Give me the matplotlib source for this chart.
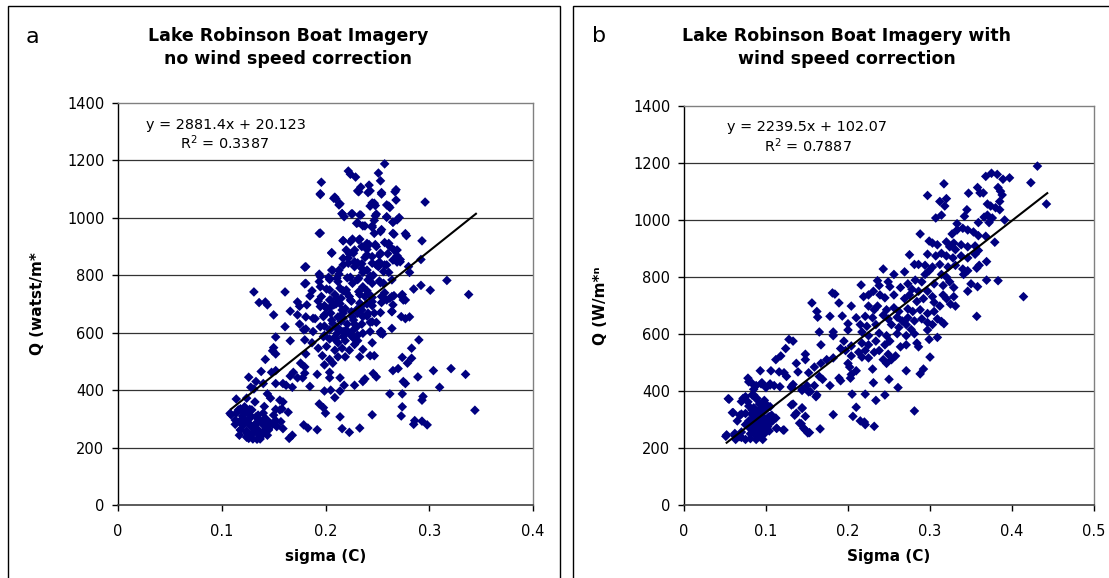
import matplotlib
matplotlib.use("Agg")
import matplotlib.pyplot as plt
from matplotlib.patches import Rectangle
import numpy as np

plt.rcParams['font.family'] = ['DejaVu Sans']

# ---------------- data: panel a (no wind speed correction) ----------------
sigma_a = [
    0.257, 0.222, 0.224, 0.229, 0.251, 0.196, 0.253,
    0.231, 0.234, 0.242, 0.243, 0.195, 0.254, 0.268,
    0.209, 0.210, 0.214, 0.245, 0.248, 0.259, 0.262,
    0.268, 0.296, 0.216, 0.218, 0.226, 0.234, 0.249,
    0.259, 0.265, 0.271, 0.247, 0.195, 0.231, 0.238,
    0.245, 0.247, 0.254, 0.266, 0.277, 0.293, 0.217,
    0.226, 0.233, 0.235, 0.242, 0.248, 0.257, 0.262,
    0.206, 0.223, 0.228, 0.266, 0.260, 0.269, 0.238,
    0.245, 0.249, 0.252, 0.257, 0.269, 0.272, 0.292,
    0.217, 0.228, 0.231, 0.280, 0.281, 0.181, 0.207,
    0.213, 0.236, 0.243, 0.261, 0.194, 0.194, 0.204,
    0.212, 0.221, 0.226, 0.231, 0.245, 0.256, 0.181,
    0.338, 0.317, 0.292, 0.301, 0.285, 0.131, 0.161,
    0.187, 0.201, 0.209, 0.217, 0.223, 0.233, 0.240,
    0.245, 0.257, 0.266, 0.274, 0.277, 0.136, 0.142,
    0.144, 0.173, 0.175, 0.193, 0.199, 0.205, 0.214,
    0.219, 0.235, 0.245, 0.254, 0.262, 0.150, 0.166,
    0.264, 0.277, 0.281, 0.199, 0.205, 0.212, 0.217,
    0.226, 0.231, 0.240, 0.247, 0.173, 0.181, 0.190,
    0.161, 0.175, 0.181, 0.199, 0.207, 0.212, 0.221,
    0.228, 0.235, 0.243, 0.249, 0.188, 0.199, 0.211,
    0.217, 0.223, 0.231, 0.254, 0.255, 0.152, 0.166,
    0.290, 0.180, 0.187, 0.204, 0.212, 0.219, 0.228,
    0.245, 0.231, 0.150, 0.149, 0.152, 0.193, 0.201,
    0.209, 0.216, 0.223, 0.236, 0.283, 0.181, 0.197,
    0.204, 0.212, 0.219, 0.233, 0.243, 0.247, 0.274,
    0.283, 0.142, 0.176, 0.180, 0.199, 0.207, 0.279,
    0.152, 0.148, 0.138, 0.265, 0.270, 0.304, 0.321,
    0.335, 0.180, 0.192, 0.204, 0.246, 0.249, 0.126,
    0.169, 0.166, 0.173, 0.178, 0.204, 0.214, 0.236,
    0.238, 0.275, 0.289, 0.133, 0.140, 0.152, 0.159,
    0.162, 0.168, 0.185, 0.218, 0.228, 0.310, 0.128,
    0.131, 0.199, 0.205, 0.214, 0.262, 0.274, 0.294,
    0.293, 0.277, 0.114, 0.144, 0.147, 0.132, 0.124,
    0.156, 0.159, 0.209, 0.194, 0.198, 0.141, 0.274,
    0.344, 0.152, 0.158, 0.164, 0.200, 0.118, 0.124,
    0.127, 0.109, 0.114, 0.120, 0.245, 0.214, 0.273,
    0.128, 0.133, 0.135, 0.143, 0.152, 0.157, 0.123,
    0.117, 0.286, 0.285, 0.293, 0.298, 0.121, 0.128,
    0.132, 0.141, 0.149, 0.233, 0.179, 0.183, 0.192,
    0.216, 0.159, 0.124, 0.135, 0.140, 0.145, 0.223,
    0.117, 0.124, 0.130, 0.137, 0.144, 0.168, 0.165,
    0.118, 0.113, 0.210, 0.215, 0.220, 0.205, 0.225,
    0.230, 0.215, 0.220, 0.225, 0.210, 0.230, 0.240,
    0.236, 0.246, 0.252, 0.240, 0.222, 0.235, 0.252,
    0.120, 0.126, 0.131, 0.138, 0.129, 0.136, 0.122,
    0.140,
]
q_a = [
    1188, 1163, 1152, 1142, 1156, 1124, 1129,
    1094, 1107, 1114, 1094, 1084, 1088, 1098,
    1072, 1066, 1049, 1052, 1043, 1045, 1036,
    1062, 1055, 1015, 1004, 1014, 1010, 1013,
    1004, 985, 1001, 991, 947, 983, 972,
    972, 946, 959, 943, 945, 920, 920,
    926, 926, 900, 907, 907, 914, 900,
    877, 875, 888, 888, 875, 868, 862,
    865, 836, 846, 836, 846, 855, 855,
    836, 830, 843, 830, 810, 830, 817,
    804, 810, 797, 810, 804, 778, 785,
    778, 791, 772, 785, 772, 772, 772,
    733, 782, 765, 748, 752, 742, 742,
    746, 752, 733, 746, 726, 733, 746,
    723, 739, 729, 733, 714, 705, 707,
    697, 707, 692, 710, 694, 714, 701,
    684, 694, 694, 705, 720, 662, 675,
    675, 649, 655, 662, 668, 655, 668,
    655, 668, 658, 668, 662, 655, 649,
    621, 630, 613, 623, 632, 617, 630,
    630, 630, 636, 636, 604, 591, 597,
    604, 597, 591, 604, 595, 585, 572,
    575, 575, 565, 578, 565, 572, 559,
    565, 572, 548, 537, 526, 546, 552,
    539, 546, 539, 542, 546, 526, 520,
    507, 516, 516, 516, 520, 520, 514,
    511, 507, 494, 481, 488, 494, 494,
    468, 462, 465, 468, 475, 468, 475,
    455, 459, 455, 462, 458, 446, 445,
    462, 449, 443, 443, 443, 443, 430,
    439, 430, 446, 430, 423, 423, 423,
    417, 410, 413, 417, 417, 410, 410,
    404, 397, 400, 397, 387, 387, 378,
    365, 423, 369, 387, 372, 359, 372,
    365, 359, 374, 352, 339, 343, 342,
    330, 333, 335, 323, 320, 335, 326,
    333, 314, 320, 310, 314, 307, 310,
    310, 307, 301, 297, 294, 290, 294,
    290, 294, 281, 292, 279, 279, 275,
    281, 279, 281, 268, 279, 268, 262,
    266, 266, 258, 262, 255, 264, 253,
    243, 236, 230, 230, 243, 243, 232,
    262, 281, 700, 720, 740, 690, 710,
    680, 640, 610, 590, 580, 620, 700,
    760, 800, 870, 890, 860, 840, 780,
    300, 285, 268, 290, 248, 245, 320,
    320,
]
# dense core of panel a (read from close-ups)
sigma_a_core = [
    0.195, 0.208, 0.213, 0.232, 0.241, 0.254, 0.267,
    0.261, 0.243, 0.247, 0.216, 0.225, 0.233, 0.248,
    0.259, 0.265, 0.269, 0.230, 0.236, 0.245, 0.253,
    0.265, 0.278, 0.194, 0.217, 0.224, 0.232, 0.240,
    0.249, 0.261, 0.269, 0.206, 0.220, 0.227, 0.240,
    0.253, 0.245, 0.251, 0.259, 0.265, 0.272, 0.217,
    0.222, 0.228, 0.235, 0.240, 0.256, 0.180, 0.206,
    0.213, 0.195, 0.203, 0.211, 0.224, 0.232, 0.241,
    0.253, 0.264, 0.180, 0.195, 0.204, 0.214, 0.220,
    0.232, 0.243, 0.254, 0.264, 0.273, 0.185, 0.196,
    0.204, 0.211, 0.224, 0.233, 0.238, 0.245, 0.259,
    0.265, 0.275, 0.182, 0.195, 0.201, 0.208, 0.216,
    0.225, 0.235, 0.241, 0.253, 0.264, 0.188, 0.198,
    0.206, 0.217, 0.227, 0.236, 0.245, 0.273, 0.179,
    0.195, 0.204, 0.211, 0.220, 0.227, 0.236, 0.243,
    0.253, 0.264, 0.198, 0.208, 0.217, 0.227, 0.253,
    0.108, 0.116, 0.122, 0.129, 0.135, 0.142, 0.150,
    0.156, 0.113, 0.121, 0.127, 0.134, 0.140, 0.147,
    0.118, 0.124, 0.132, 0.139, 0.145, 0.153, 0.126,
    0.134,
]
q_a_core = [
    1081, 1068, 1045, 1091, 1088, 1083, 1091,
    1041, 1041, 1051, 1014, 1014, 1010, 1007,
    1002, 985, 993, 981, 972, 967, 952,
    946, 938, 946, 921, 917, 923, 911,
    900, 911, 888, 879, 888, 877, 871,
    877, 842, 830, 836, 853, 847, 859,
    842, 847, 824, 818, 813, 828, 818,
    818, 795, 793, 790, 793, 790, 784,
    774, 784, 770, 760, 749, 755, 749,
    743, 731, 726, 726, 728, 728, 726,
    714, 720, 714, 703, 726, 708, 714,
    697, 714, 697, 691, 685, 697, 679,
    673, 679, 668, 670, 673, 650, 656,
    644, 650, 644, 656, 638, 656, 610,
    621, 610, 615, 604, 610, 598, 604,
    604, 615, 586, 581, 586, 581, 598,
    319, 331, 342, 331, 313, 302, 313,
    331, 296, 290, 302, 285, 279, 285,
    261, 250, 255, 244, 261, 273, 232,
    229,
]

# ---------------- data: panel b (with wind speed correction) ----------------
sigma_b = [
    0.431, 0.423, 0.397, 0.389, 0.375, 0.382, 0.368,
    0.317, 0.358, 0.361, 0.365, 0.383, 0.386, 0.388,
    0.297, 0.347, 0.320, 0.312, 0.318, 0.385, 0.370,
    0.374, 0.380, 0.385, 0.345, 0.442, 0.342, 0.370,
    0.366, 0.376, 0.307, 0.314, 0.391, 0.359, 0.372,
    0.333, 0.340, 0.288, 0.327, 0.333, 0.346, 0.353,
    0.359, 0.368, 0.379, 0.299, 0.303, 0.309, 0.320,
    0.329, 0.338, 0.346, 0.324, 0.331, 0.355, 0.359,
    0.275, 0.297, 0.307, 0.314, 0.320, 0.328, 0.338,
    0.346, 0.355, 0.369, 0.281, 0.286, 0.294, 0.303,
    0.312, 0.322, 0.331, 0.340, 0.346, 0.357, 0.360,
    0.299, 0.294, 0.269, 0.243, 0.314, 0.320, 0.341,
    0.256, 0.282, 0.290, 0.305, 0.316, 0.369, 0.383,
    0.346, 0.350, 0.358, 0.324, 0.329, 0.414, 0.216,
    0.236, 0.238, 0.249, 0.251, 0.264, 0.273, 0.278,
    0.286, 0.297, 0.303, 0.316, 0.320, 0.329, 0.181,
    0.184, 0.231, 0.225, 0.239, 0.245, 0.256, 0.269,
    0.275, 0.284, 0.292, 0.305, 0.312, 0.325, 0.331,
    0.219, 0.189, 0.156, 0.204, 0.225, 0.232, 0.236,
    0.247, 0.256, 0.262, 0.273, 0.279, 0.288, 0.297,
    0.305, 0.162, 0.178, 0.193, 0.163, 0.210, 0.221,
    0.230, 0.243, 0.249, 0.260, 0.266, 0.273, 0.281,
    0.290, 0.309, 0.314, 0.357, 0.200, 0.215, 0.223,
    0.234, 0.253, 0.262, 0.271, 0.277, 0.297, 0.303,
    0.317, 0.200, 0.165, 0.182, 0.182, 0.217, 0.225,
    0.238, 0.247, 0.260, 0.271, 0.281, 0.297, 0.299,
    0.309, 0.128, 0.133, 0.167, 0.195, 0.204, 0.217,
    0.225, 0.234, 0.245, 0.251, 0.264, 0.271, 0.284,
    0.286, 0.124, 0.191, 0.197, 0.213, 0.221, 0.232,
    0.238, 0.249, 0.258, 0.112, 0.118, 0.148, 0.148,
    0.174, 0.182, 0.204, 0.217, 0.225, 0.243, 0.300,
    0.167, 0.159, 0.200, 0.202, 0.247, 0.253, 0.137,
    0.106, 0.116, 0.139, 0.122, 0.125, 0.093, 0.210,
    0.230, 0.292, 0.288, 0.152, 0.165, 0.169, 0.189,
    0.191, 0.204, 0.203, 0.250, 0.271, 0.078, 0.079,
    0.088, 0.085, 0.094, 0.105, 0.110, 0.100, 0.131,
    0.133, 0.150, 0.159, 0.178, 0.231, 0.261, 0.144,
    0.152, 0.161, 0.205, 0.221, 0.245, 0.234, 0.054,
    0.070, 0.075, 0.083, 0.088, 0.098, 0.092, 0.133,
    0.210, 0.079, 0.085, 0.096, 0.100, 0.090, 0.144,
    0.059, 0.068, 0.075, 0.083, 0.094, 0.103, 0.107,
    0.135, 0.148, 0.182, 0.206, 0.281, 0.065, 0.079,
    0.088, 0.096, 0.105, 0.075, 0.085, 0.094, 0.100,
    0.143, 0.215, 0.220, 0.221, 0.232, 0.146, 0.153,
    0.113, 0.122, 0.166, 0.051, 0.062, 0.070, 0.070,
    0.081, 0.081, 0.090, 0.096, 0.075, 0.088, 0.063,
    0.086, 0.092, 0.098, 0.089, 0.095, 0.080, 0.101,
    0.092, 0.084, 0.098, 0.105,
]
q_b = [
    1189, 1131, 1148, 1143, 1164, 1160, 1153,
    1127, 1114, 1095, 1095, 1114, 1101, 1088,
    1086, 1094, 1075, 1065, 1049, 1065, 1056,
    1049, 1043, 1036, 1036, 1056, 1013, 1017,
    1010, 1007, 1007, 1017, 1000, 991, 991,
    987, 971, 951, 951, 965, 965, 958,
    945, 943, 922, 926, 919, 913, 923,
    919, 913, 906, 906, 896, 909, 893,
    878, 880, 874, 883, 874, 867, 874,
    867, 880, 854, 844, 844, 841, 835,
    844, 835, 841, 828, 822, 831, 841,
    822, 809, 818, 828, 809, 800, 809,
    809, 789, 783, 776, 770, 789, 787,
    750, 776, 766, 783, 763, 731, 772,
    787, 770, 783, 766, 763, 776, 757,
    750, 750, 731, 737, 724, 731, 744,
    740, 750, 737, 737, 727, 737, 724,
    737, 714, 724, 711, 698, 705, 698,
    731, 709, 709, 698, 698, 685, 698,
    685, 692, 679, 688, 679, 685, 672,
    679, 679, 662, 663, 659, 657, 662,
    657, 666, 653, 659, 646, 657, 646,
    653, 653, 644, 662, 636, 633, 627,
    633, 633, 623, 633, 616, 640, 633,
    636, 614, 607, 607, 594, 607, 594,
    603, 594, 601, 594, 601, 614, 581,
    588, 581, 575, 562, 575, 558, 568,
    562, 575, 562, 575, 555, 562, 568,
    555, 549, 549, 542, 536, 542, 536,
    542, 529, 523, 510, 523, 529, 510,
    510, 516, 523, 519, 516, 510, 519,
    497, 484, 497, 484, 497, 510, 497,
    471, 467, 467, 464, 451, 471, 471,
    477, 477, 460, 464, 451, 441, 445,
    436, 458, 445, 441, 471, 445, 432,
    419, 406, 425, 425, 419, 412, 412,
    423, 419, 419, 419, 429, 412, 402,
    397, 380, 389, 389, 386, 367, 373,
    363, 380, 386, 373, 367, 354, 354,
    343, 347, 341, 347, 337, 328, 341,
    324, 315, 321, 321, 315, 308, 315,
    315, 311, 317, 311, 330, 295, 295,
    302, 295, 289, 282, 276, 276, 282,
    285, 295, 291, 282, 276, 269, 254,
    269, 263, 267, 241, 243, 256, 237,
    250, 233, 243, 230, 230, 230, 230,
    260, 265, 258, 290, 305, 270, 300,
    240, 315, 330, 345,
]
# dense low-sigma core of panel b (read from close-ups)
sigma_b_core = [
    0.083, 0.095, 0.105, 0.117, 0.131, 0.144, 0.154,
    0.162, 0.055, 0.072, 0.078, 0.085, 0.089, 0.060,
    0.070, 0.083, 0.095, 0.101, 0.131, 0.137, 0.144,
    0.141, 0.085, 0.090, 0.095, 0.100, 0.104, 0.088,
    0.094, 0.098, 0.102, 0.108, 0.112, 0.083, 0.079,
    0.092, 0.087, 0.097, 0.091, 0.086, 0.098, 0.104,
    0.052, 0.062, 0.068, 0.113, 0.121, 0.148, 0.151,
]
q_b_core = [
    427, 429, 421, 415, 415, 406, 398,
    386, 371, 374, 362, 386, 374, 324,
    319, 333, 339, 351, 351, 322, 339,
    287, 310, 300, 290, 300, 310, 280,
    270, 285, 275, 295, 305, 295, 285,
    320, 330, 340, 260, 250, 250, 260,
    246, 251, 240, 269, 263, 263, 253,
]

# trendline equations shown on the chart (slope, intercept, R^2) and x-extent
fit_a = (2881.4, 20.123, 0.3387)
fit_b = (2239.5, 102.07, 0.7887)
fit_range_a = (0.109, 0.345)
fit_range_b = (0.052, 0.443)

title_lines_a = ["Lake Robinson Boat Imagery", "no wind speed correction"]
title_lines_b = ["Lake Robinson Boat Imagery with", "wind speed correction"]
ylabels = ["Q (watst/m*", "Q (W/m*\u207f"]
xlabels = ["sigma (C)", "Sigma (C)"]
panel_letters = ["a", "b"]
xticks_a = [0, 0.1, 0.2, 0.3, 0.4]
xticks_b = [0, 0.1, 0.2, 0.3, 0.4, 0.5]
yticks = [0, 200, 400, 600, 800, 1000, 1200, 1400]

W, H = 1109, 578
fig = plt.figure(figsize=(W / 100, H / 100), dpi=100)
fig.patch.set_facecolor('white')

# outer chart frames
for (x0, x1) in [(8, 560), (573, 1120)]:
    fig.patches.append(Rectangle((x0 / W, -0.05), (x1 - x0) / W, 1.05 - 6 / H,
                                 transform=fig.transFigure, fill=False,
                                 edgecolor='black', linewidth=1.0))

axa = fig.add_axes([118 / W, 1 - 505 / H, 415 / W, 402 / H])
axb = fig.add_axes([684 / W, 1 - 505 / H, 410 / W, 399 / H])

marker_color = '#000080'

def style(ax, xs, ys, fit, frange, xticks, xlabel, ylabel, eq_pos, r_pos, ylab_x):
    ax.set_xlim(xticks[0], xticks[-1])
    ax.set_ylim(0, 1400)
    for g in yticks[1:-1]:
        ax.axhline(g, color='#333333', linewidth=0.9, zorder=1)
    ax.scatter(xs, ys, marker='D', s=24, color=marker_color,
               edgecolors='none', zorder=3)
    xx = np.array(frange)
    ax.plot(xx, fit[0] * xx + fit[1], color='black', linewidth=1.5, zorder=4)
    ax.set_xticks(xticks)
    ax.set_xticklabels([f"{t:g}" for t in xticks])
    ax.set_yticks(yticks)
    ax.tick_params(axis='both', direction='out', length=4.3, width=1,
                   labelsize=10.5, colors='black')
    ax.tick_params(axis='y', pad=5.5)
    ax.tick_params(axis='x', pad=9.5)
    for side in ['top', 'right']:
        ax.spines[side].set_color('#808080')
        ax.spines[side].set_linewidth(1.0)
    ax.spines['left'].set_color('black')
    ax.spines['bottom'].set_color('#404040')
    ax.spines['left'].set_linewidth(1.0)
    ax.spines['bottom'].set_linewidth(1.2)
    ax.set_xlabel(xlabel, fontsize=11, fontweight='bold')
    ax.xaxis.set_label_coords(0.5, -44 / 402)
    ax.set_ylabel(ylabel, fontsize=11, fontweight='bold')
    ax.yaxis.set_label_coords(ylab_x, 0.5)
    ax.text(eq_pos[0], eq_pos[1], f"y = {fit[0]}x + {fit[1]}",
            fontsize=10.4, va='center', ha='left')
    ax.text(r_pos[0], r_pos[1], f"R$^2$ = {fit[2]}",
            fontsize=10.4, va='center', ha='left')

style(axa, sigma_a + sigma_a_core, q_a + q_a_core, fit_a, fit_range_a, xticks_a,
      xlabels[0], ylabels[0], (0.027, 1322), (0.060, 1262), (45 - 118) / 415)
style(axb, sigma_b + sigma_b_core, q_b + q_b_core, fit_b, fit_range_b, xticks_b,
      xlabels[1], ylabels[1], (0.053, 1327), (0.097, 1262), (608 - 684) / 410)

# titles and panel letters
for cx, lines in [(288, title_lines_a), (847, title_lines_b)]:
    fig.text(cx / W, 1 - 41 / H, lines[0], ha='center', va='baseline',
             fontsize=12.5, fontweight='bold')
    fig.text(cx / W, 1 - 63.5 / H, lines[1], ha='center', va='baseline',
             fontsize=12.5, fontweight='bold')
fig.text(26 / W, 1 - 43 / H, panel_letters[0], ha='left', va='baseline', fontsize=16)
fig.text(592 / W, 1 - 42 / H, panel_letters[1], ha='left', va='baseline', fontsize=16)

fig.savefig('out.png', dpi=100, facecolor='white')
